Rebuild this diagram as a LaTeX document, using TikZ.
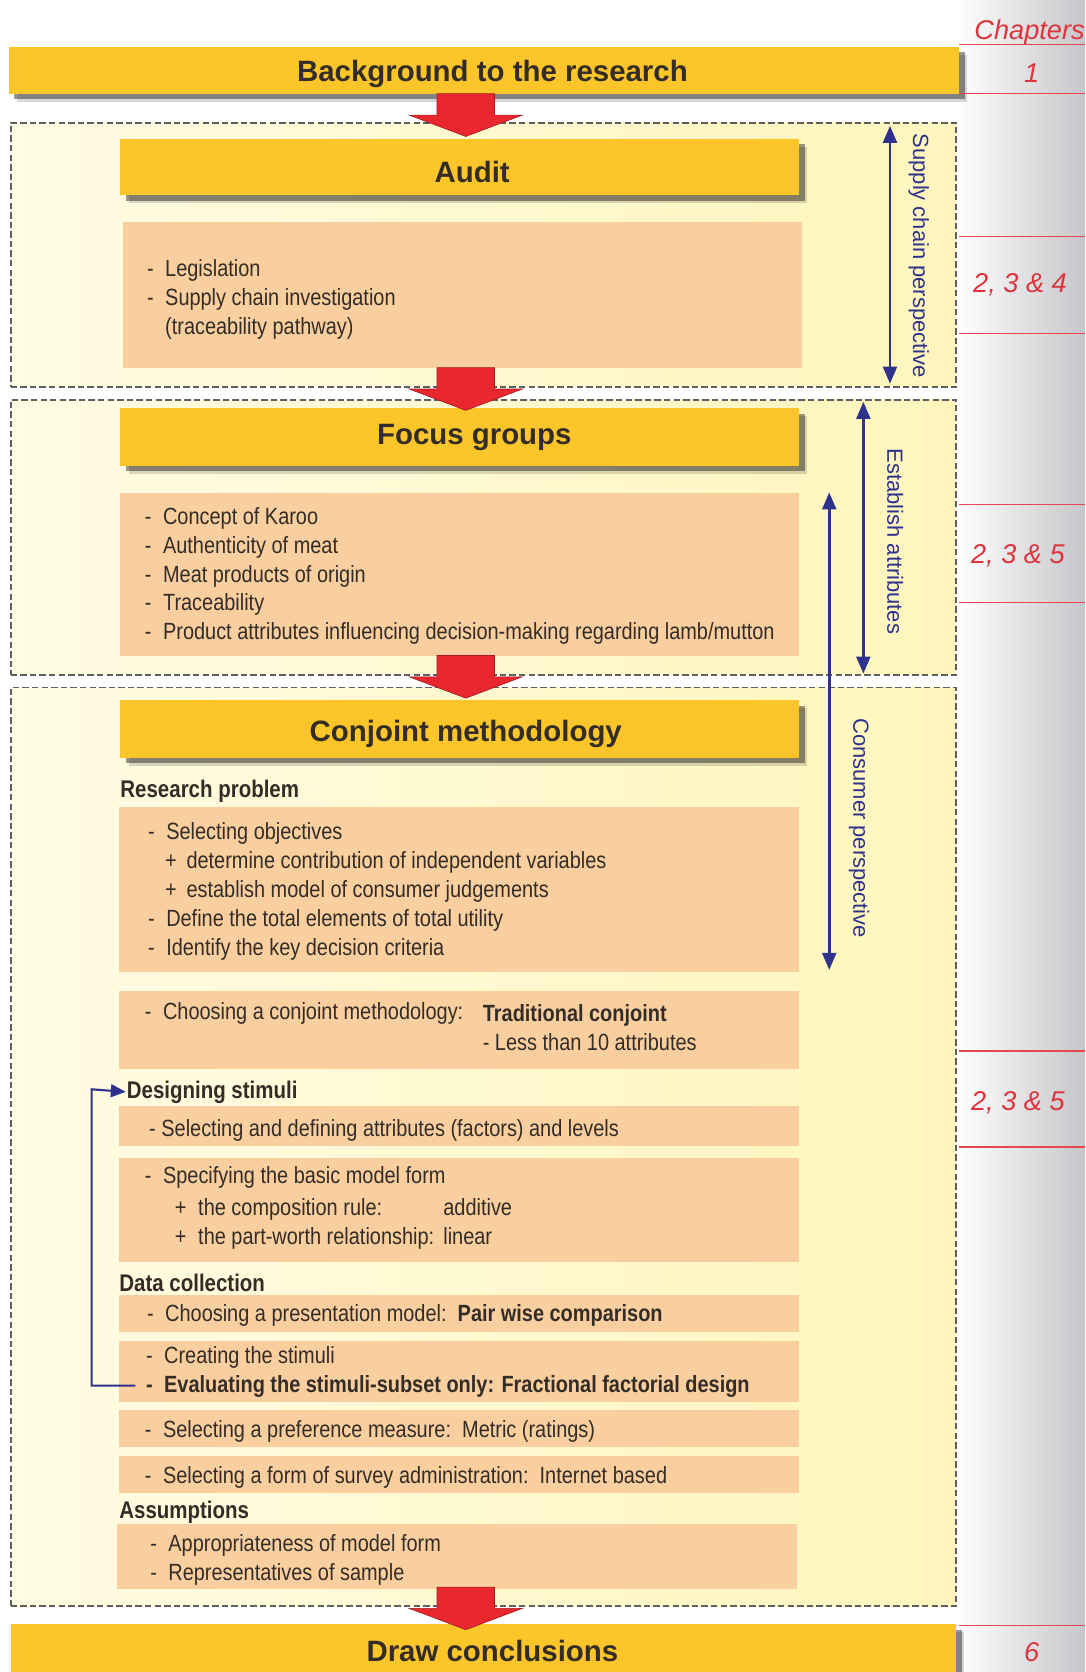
\documentclass[tikz,border=0pt]{standalone}
\usepackage{fontspec}
\setmainfont{Liberation Sans}[FakeStretch=0.85]
\newfontfamily\titlefont{Liberation Sans}
\usetikzlibrary{arrows.meta,shadows,fit}

\definecolor{gold}{RGB}{252,198,42}
\definecolor{peach}{RGB}{250,207,160}
\definecolor{paleL}{RGB}{255,252,228}
\definecolor{paleR}{RGB}{255,245,188}
\definecolor{redarr}{RGB}{234,38,46}
\definecolor{navy}{RGB}{46,50,140}
\definecolor{chapred}{RGB}{222,52,62}
\definecolor{txt}{RGB}{52,44,38}
\definecolor{colgray}{RGB}{198,198,202}
\definecolor{dashgray}{RGB}{95,95,95}

\newcommand\dsh{\makebox[8.5pt][l]{-}}
\newcommand\pls{\makebox[10pt][l]{+}}

\begin{document}
\begin{tikzpicture}[x=0.5pt,y=-0.5pt,
  every node/.style={inner sep=0pt, outer sep=0pt, text=txt},
  body/.style={font=\fontsize{11pt}{13.5pt}\selectfont, align=left, anchor=west, yshift=-1.2pt},
  head/.style={font=\fontsize{11.3pt}{13.5pt}\selectfont\bfseries, anchor=west, yshift=-1.2pt},
  titletxt/.style={font=\titlefont\bfseries\fontsize{13.8pt}{16pt}\selectfont, yshift=-1.3pt},
  lbl/.style={font=\titlefont\fontsize{10.3pt}{12pt}\selectfont, text=navy, rotate=-90},
  chap/.style={font=\titlefont\itshape\fontsize{12.75pt}{15pt}\selectfont, text=chapred, yshift=-1.2pt},
  bar/.style={fill=gold, draw=none,
     drop shadow={shadow xshift=3.8pt, shadow yshift=-3.8pt, fill=black, opacity=0.15},
     drop shadow={shadow xshift=2.6pt, shadow yshift=-2.6pt, fill=black, opacity=0.4}},
  peachbox/.style={fill=peach, draw=none},
  sectionbox/.style={draw=dashgray, dash pattern=on 3pt off 1.5pt, line width=0.9pt, left color=paleL, right color=paleR},
  bluedbl/.style={draw=navy, line width=1.2pt, {Triangle[length=8pt,width=6.5pt]}-{Triangle[length=8pt,width=6.5pt]}},
  chapline/.style={draw=chapred!90, line width=0.6pt},
  redblock/.pic={\filldraw[fill=redarr, draw=redarr!70!black, line width=0.3pt]
     (-27,0) -- (27,0) -- (27,20) -- (53,20) -- (0,40) -- (-53,20) -- (-27,20) -- cycle;}
]
\useasboundingbox (0,0) rectangle (1018,1568.7);
\fill[white] (0,0) rectangle (1018,1568.7);
% chapters column
\shade[left color=white, right color=colgray] (897,0) rectangle (1018,1568.7);

% section boxes
\node[sectionbox, fit={(10,115)(897,363)}] (sec1) {};
\node[sectionbox, fit={(10,375)(897,633)}] (sec2) {};
\node[sectionbox, fit={(10,645)(897,1507)}] (sec3) {};

% bars
\node[bar, fit={(8,44)(900,88)}] (bgbar) {};
\node[bar, fit={(113,130)(750,183)}] (auditbar) {};
\node[bar, fit={(113,383)(750,437)}] (focusbar) {};
\node[bar, fit={(113,657)(750,711)}] (conjbar) {};
\node[bar, fit={(10,1524)(897,1569)}] (concbar) {};

\node[titletxt] (bgtxt) at (462,67) {Background to the research};
\node[titletxt] (audittitle) at (443,159) {Audit};
\node[titletxt] (focustitle) at (445,408) {Focus groups};
\node[titletxt] (conjtitle) at (437,686) {Conjoint methodology};
\node[titletxt] (conctxt) at (462,1546) {Draw conclusions};

% peach boxes
\node[peachbox, fit={(115,208)(752,345)}] (auditbox) {};
\node[peachbox, fit={(113,463)(750,615)}] (focusbox) {};
\node[peachbox, fit={(112,757)(750,912)}] (resbox) {};
\node[peachbox, fit={(112,930)(750,1003)}] (methbox) {};
\node[peachbox, fit={(112,1038)(750,1075)}] (selbox) {};
\node[peachbox, fit={(112,1086)(750,1184)}] (specbox) {};
\node[peachbox, fit={(112,1215)(750,1250)}] (presbox) {};
\node[peachbox, fit={(112,1258)(750,1315)}] (creabox) {};
\node[peachbox, fit={(112,1323)(750,1358)}] (prefbox) {};
\node[peachbox, fit={(112,1366)(750,1401)}] (survbox) {};
\node[peachbox, fit={(110,1430)(748,1491)}] (assbox) {};

% texts
\node[body] (audittxt) at (138,278.7) {\dsh Legislation\\ \dsh Supply chain investigation\\ \hspace*{8.5pt}(traceability pathway)};
\node[body] (focustxt) at (136,538) {\dsh Concept of Karoo\\ \dsh Authenticity of meat\\ \dsh Meat products of origin\\ \dsh Traceability\\ \dsh Product attributes influencing decision-making regarding lamb/mutton};
\node[head] (hres) at (113,740) {Research problem};
\node[body] (restxt) at (139,834) {\dsh Selecting objectives\\ \hspace*{8pt}\pls determine contribution of independent variables\\ \hspace*{8pt}\pls establish model of consumer judgements\\ \dsh Define the total elements of total utility\\ \dsh Identify the key decision criteria};
\node[body] (methL) at (136,948) {\dsh Choosing a conjoint methodology:};
\node[body] (methR) at (453,962) {\textbf{Traditional conjoint}\\- Less than 10 attributes};
\node[head] (hdesign) at (119,1022) {Designing stimuli};
\node[body] (seltxt) at (140,1058) {- Selecting and defining attributes (factors) and levels};
\node[body] (spectxt) at (136,1131) {\dsh Specifying the basic model form\\[1.5pt] \hspace*{14pt}\makebox[11pt][l]{+}\makebox[115pt][l]{the composition rule:}additive\\ \hspace*{14pt}\makebox[11pt][l]{+}\makebox[115pt][l]{the part-worth relationship:}linear};
\node[head] (hdata) at (112,1201) {Data collection};
\node[body] (prestxt) at (138,1232) {\dsh Choosing a presentation model:\ \ \textbf{Pair wise comparison}};
\node[body] (creatxt) at (137,1284.5) {\dsh Creating the stimuli\\ \textbf{\dsh Evaluating the stimuli-subset only: Fractional factorial design}};
\node[body] (preftxt) at (136,1341) {\dsh Selecting a preference measure:\ \ Metric (ratings)};
\node[body] (survtxt) at (136,1384) {\dsh Selecting a form of survey administration:\ \ Internet based};
\node[head] (hass) at (112,1416) {Assumptions};
\node[body] (asstxt) at (141,1461.5) {\dsh Appropriateness of model form\\ \dsh Representatives of sample};

% chapter lines and labels
\foreach \yy in {42,88,222,313,473,565,986,1076,1525}
  \draw[chapline] (900,\yy) -- (1018,\yy);
\node[chap] (chtitle) at (966,28) {Chapters};
\node[chap] (ch1) at (968,66) {1};
\node[chap] (ch2) at (957,265) {2, 3 \& 4};
\node[chap] (ch3) at (955,519) {2, 3 \& 5};
\node[chap] (ch4) at (955,1032) {2, 3 \& 5};
\node[chap] (ch5) at (968,1548) {6};

% side arrows and labels
\coordinate (sctop) at (835,118);
\coordinate (scbot) at (835,360);
\draw[bluedbl] (sctop) -- (scbot);
\node[lbl] (lsc) at (862,240) {Supply chain perspective};
\coordinate (eatop) at (810,377);
\coordinate (eabot) at (810,632);
\draw[bluedbl] (eatop) -- (eabot);
\node[lbl] (lea) at (840,508) {Establish attributes};
\coordinate (cptop) at (778,462);
\coordinate (cpbot) at (778,910);
\draw[bluedbl] (cptop) -- (cpbot);
\node[lbl] (lcp) at (806,777) {Consumer perspective};

% feedback arrow
\coordinate (fbs) at (127,1300);
\coordinate (fbc) at (86,1022);
\draw[navy, line width=1pt, -{Triangle[length=7pt,width=6pt]}] (fbs) -| (fbc) -- ([xshift=-0.5pt]hdesign.west);

% red block arrows
\pic at (437,88) {redblock};
\pic at (437,345) {redblock};
\pic at (437,615) {redblock};
\pic at (437,1489) {redblock};
\end{tikzpicture}
\end{document}
